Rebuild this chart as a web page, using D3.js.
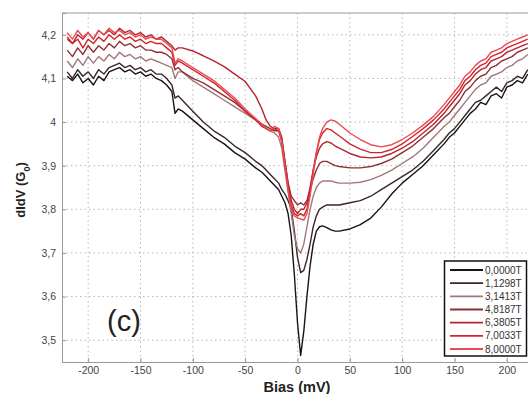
<!DOCTYPE html>
<html>
<head>
<meta charset="utf-8">
<script src="https://cdn.jsdelivr.net/npm/d3@7"></script>
<style>
  body { margin: 0; background: #fff; }
  svg { display: block; font-family: "Liberation Sans", Arial, sans-serif; }
</style>
</head>
<body>
<svg id="chart" width="528" height="394"></svg>
<script>
// bias values (mV), shared by every field curve
const bias = [
  -220,-215,-210,-205,-200,-195,-190,-185,-180,-175,-170,-165,-160,-155,-150,-145,-140,-135,-130,-125,
  -120,-117,-114,-110,-100,-90,-80,-70,-60,-50,-40,-34,-30,-26,-22,-18,-15,-12,-9,-6,-3,
  0,3,6,9,12,15,18,21,24,28,32,36,40,50,60,70,80,90,100,110,120,130,140,
  145,150,155,160,165,170,175,180,185,190,195,200,205,210,215,220
];

const fields = ["0,0000T", "1,1298T", "3,1413T", "4,8187T", "6,3805T", "7,0033T", "8,0000T"];
const colors = ["#151515", "#3b2628", "#a3787b", "#8e3036", "#b3252d", "#d4232c", "#eb4a52"];

const g0000 = [
  4.105,4.095,4.11,4.09,4.10,4.085,4.105,4.095,4.115,4.12,4.125,4.115,4.12,4.11,4.115,4.105,4.11,4.10,4.095,4.085,
  4.07,4.02,4.03,4.025,4.005,3.985,3.965,3.95,3.93,3.915,3.895,3.885,3.875,3.865,3.855,3.845,3.83,3.815,3.79,3.74,3.65,
  3.54,3.465,3.52,3.60,3.67,3.72,3.75,3.76,3.762,3.758,3.753,3.75,3.75,3.755,3.765,3.78,3.805,3.835,3.86,3.88,3.90,3.925,3.95,
  3.965,3.975,3.99,4.005,4.02,4.03,4.045,4.04,4.06,4.065,4.055,4.08,4.085,4.095,4.09,4.11
];
const g1129 = [
  4.115,4.10,4.12,4.105,4.115,4.10,4.12,4.11,4.125,4.13,4.135,4.125,4.13,4.12,4.125,4.115,4.12,4.11,4.11,4.10,
  4.085,4.055,4.06,4.05,4.025,4.0,3.98,3.965,3.945,3.93,3.91,3.90,3.89,3.88,3.87,3.86,3.845,3.835,3.82,3.80,3.75,
  3.69,3.655,3.66,3.685,3.72,3.76,3.785,3.80,3.805,3.81,3.81,3.81,3.81,3.815,3.82,3.83,3.845,3.86,3.875,3.89,3.91,3.935,3.96,
  3.975,3.985,4.0,4.015,4.03,4.045,4.05,4.06,4.07,4.08,4.07,4.09,4.095,4.105,4.10,4.12
];
const g3141 = [
  4.14,4.125,4.145,4.13,4.15,4.135,4.15,4.14,4.155,4.145,4.16,4.15,4.155,4.145,4.15,4.14,4.145,4.14,4.135,4.13,
  4.125,4.10,4.115,4.115,4.095,4.08,4.065,4.05,4.035,4.02,4.005,3.995,3.985,3.98,3.975,3.965,3.94,3.89,3.84,3.79,3.74,
  3.71,3.70,3.72,3.76,3.80,3.83,3.85,3.86,3.865,3.865,3.865,3.862,3.86,3.86,3.862,3.868,3.878,3.89,3.905,3.92,3.94,3.965,3.99,
  4.0,4.015,4.03,4.045,4.06,4.075,4.085,4.09,4.105,4.11,4.115,4.125,4.13,4.14,4.145,4.155
];
const g4818 = [
  4.165,4.15,4.17,4.155,4.175,4.16,4.175,4.165,4.18,4.17,4.185,4.175,4.18,4.17,4.175,4.165,4.165,4.16,4.16,4.155,
  4.145,4.12,4.125,4.115,4.10,4.09,4.075,4.06,4.045,4.025,4.005,3.995,3.99,3.985,3.98,3.98,3.96,3.91,3.86,3.83,3.82,
  3.81,3.815,3.81,3.82,3.845,3.87,3.89,3.905,3.91,3.91,3.905,3.90,3.898,3.895,3.895,3.898,3.905,3.915,3.93,3.945,3.965,3.985,4.01,
  4.02,4.035,4.05,4.07,4.08,4.095,4.105,4.11,4.125,4.13,4.14,4.145,4.15,4.16,4.165,4.17
];
const g6380 = [
  4.19,4.18,4.20,4.19,4.205,4.19,4.21,4.20,4.21,4.20,4.215,4.205,4.21,4.20,4.205,4.195,4.20,4.19,4.195,4.185,
  4.175,4.165,4.17,4.17,4.163,4.152,4.14,4.127,4.11,4.093,4.06,4.03,4.005,3.99,3.985,3.985,3.965,3.91,3.86,3.82,3.80,
  3.79,3.80,3.80,3.815,3.85,3.89,3.92,3.94,3.95,3.955,3.952,3.945,3.94,3.928,3.92,3.918,3.92,3.928,3.94,3.955,3.975,3.995,4.02,
  4.035,4.05,4.065,4.085,4.095,4.11,4.12,4.125,4.14,4.145,4.15,4.16,4.165,4.17,4.175,4.18
];
const g7003 = [
  4.195,4.18,4.19,4.17,4.19,4.18,4.195,4.185,4.20,4.19,4.20,4.19,4.195,4.185,4.19,4.18,4.185,4.18,4.18,4.17,
  4.16,4.13,4.14,4.135,4.12,4.105,4.09,4.07,4.05,4.025,4.005,3.99,3.985,3.98,3.985,3.98,3.955,3.90,3.85,3.81,3.79,
  3.785,3.79,3.785,3.80,3.84,3.89,3.93,3.96,3.975,3.985,3.982,3.975,3.968,3.95,3.938,3.93,3.93,3.937,3.95,3.967,3.985,4.005,4.03,
  4.045,4.06,4.075,4.095,4.105,4.12,4.13,4.135,4.15,4.155,4.16,4.17,4.175,4.18,4.185,4.19
];
const g8000 = [
  4.205,4.19,4.21,4.195,4.205,4.19,4.21,4.20,4.215,4.205,4.21,4.20,4.205,4.195,4.20,4.19,4.195,4.19,4.19,4.18,
  4.17,4.135,4.145,4.14,4.125,4.11,4.095,4.075,4.055,4.03,4.008,3.995,3.985,3.98,3.99,3.985,3.955,3.90,3.845,3.80,3.785,
  3.78,3.778,3.775,3.79,3.83,3.88,3.93,3.965,3.985,4.0,4.005,4.002,3.995,3.975,3.96,3.948,3.943,3.948,3.96,3.975,3.993,4.013,4.04,
  4.055,4.07,4.085,4.105,4.115,4.13,4.14,4.145,4.16,4.165,4.17,4.18,4.185,4.19,4.195,4.20
];
const series = [g0000, g1129, g3141, g4818, g6380, g7003, g8000];

const xTicks = [-200, -150, -100, -50, 0, 50, 100, 150, 200];
const yTicks = [3.5, 3.6, 3.7, 3.8, 3.9, 4.0, 4.1, 4.2];

const svg = d3.select("#chart");
const mLeft = 62, mTop = 13, mRight = 533, mBottom = 362;

const x = d3.scaleLinear().domain([-225, 225]).range([mLeft, mRight]);
const y = d3.scaleLinear().domain([3.45, 4.25]).range([mBottom, mTop]);

// dotted grid
svg.append("g").selectAll("line").data(xTicks).enter().append("line")
  .attr("x1", d => x(d)).attr("x2", d => x(d))
  .attr("y1", mTop).attr("y2", mBottom)
  .attr("stroke", "#b8b8b8").attr("stroke-width", 1).attr("stroke-dasharray", "1.5,3");
svg.append("g").selectAll("line").data(yTicks).enter().append("line")
  .attr("x1", mLeft).attr("x2", mRight)
  .attr("y1", d => y(d)).attr("y2", d => y(d))
  .attr("stroke", "#b8b8b8").attr("stroke-width", 1).attr("stroke-dasharray", "1.5,3");

// axes (matlab style, ticks pointing in, plain hyphen minus, comma decimals)
const fmt = d => String(+d.toFixed(1)).replace(".", ",");
svg.append("g")
  .attr("transform", `translate(0,${mBottom})`)
  .call(d3.axisBottom(x).tickValues(xTicks).tickFormat(d => String(d)).tickSize(-4).tickPadding(5))
  .call(a => a.select(".domain").attr("stroke", "#999"))
  .call(a => a.selectAll(".tick line").attr("stroke", "#999"))
  .call(a => a.selectAll("text").attr("fill", "#444").attr("font-size", 10.5));
svg.append("g")
  .attr("transform", `translate(${mLeft},0)`)
  .call(d3.axisLeft(y).tickValues(yTicks).tickFormat(fmt).tickSize(-4).tickPadding(6))
  .call(a => a.select(".domain").attr("stroke", "#999"))
  .call(a => a.selectAll(".tick line").attr("stroke", "#999"))
  .call(a => a.selectAll("text").attr("fill", "#444").attr("font-size", 10.5));
svg.append("line")
  .attr("x1", mLeft).attr("x2", mRight).attr("y1", mTop).attr("y2", mTop)
  .attr("stroke", "#999");

// curves
const line = d3.line().x((d, i) => x(bias[i])).y(d => y(d));
svg.append("g").selectAll("path").data(series).enter().append("path")
  .attr("d", line)
  .attr("fill", "none")
  .attr("stroke", (d, i) => colors[i])
  .attr("stroke-width", 1.4)
  .attr("stroke-linejoin", "round");

// labels
const ylab = svg.append("text")
  .attr("transform", `translate(25,190) rotate(-90)`)
  .attr("text-anchor", "middle")
  .attr("font-weight", "bold").attr("font-size", 13).attr("fill", "#222");
ylab.append("tspan").text("dIdV (G");
ylab.append("tspan").attr("baseline-shift", "sub").attr("font-size", 9).text("0");
ylab.append("tspan").text(")");

svg.append("text")
  .attr("x", 297).attr("y", 392)
  .attr("text-anchor", "middle")
  .attr("font-weight", "bold").attr("font-size", 14.5).attr("fill", "#222")
  .text("Bias (mV)");

svg.append("text")
  .attr("x", 124).attr("y", 331)
  .attr("text-anchor", "middle")
  .attr("font-size", 29).attr("fill", "#222")
  .text("(c)");

// legend
const lg = svg.append("g");
lg.append("rect")
  .attr("x", 444.5).attr("y", 261).attr("width", 82).attr("height", 95)
  .attr("fill", "#fff").attr("stroke", "#111").attr("stroke-width", 1.5);
const ly = d3.scalePoint().domain(fields).range([270, 349]);
lg.selectAll("line").data(fields).enter().append("line")
  .attr("x1", 450).attr("x2", 483)
  .attr("y1", d => ly(d)).attr("y2", d => ly(d))
  .attr("stroke", (d, i) => colors[i])
  .attr("stroke-width", (d, i) => i === 0 ? 2.2 : 1.8);
lg.selectAll("text").data(fields).enter().append("text")
  .attr("x", 485).attr("y", d => ly(d) + 3.6)
  .attr("font-size", 10).attr("fill", "#333")
  .text(d => d);
</script>
</body>
</html>
